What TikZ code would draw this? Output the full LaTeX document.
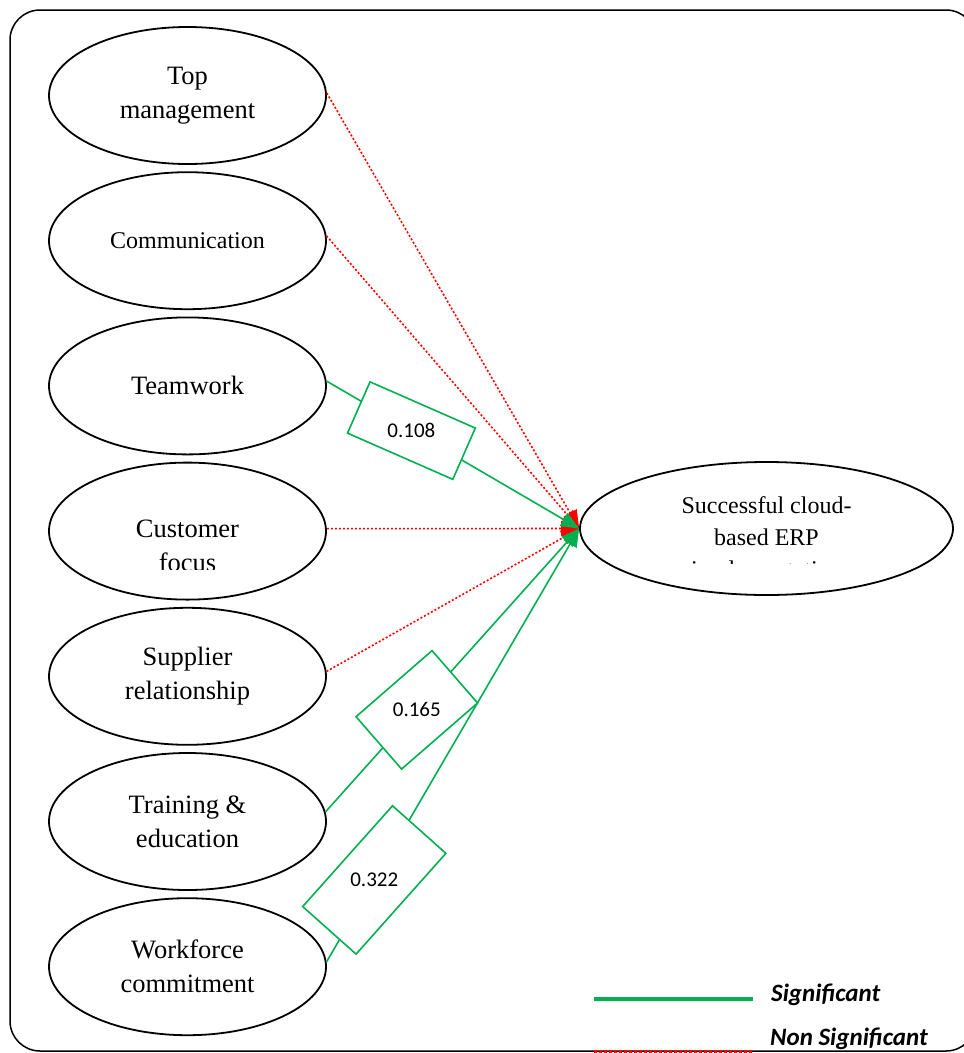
\documentclass[tikz,border=0pt]{standalone}
\usepackage{fontspec}
\setmainfont{Liberation Serif}
\newfontfamily\carlito{Carlito}
\usepackage{xcolor}
\usetikzlibrary{positioning, arrows.meta, shapes.geometric}
\definecolor{sgreen}{RGB}{0,176,80}
\definecolor{sred}{RGB}{255,0,0}

\begin{document}
\begin{tikzpicture}[
    x=1pt, y=-1pt,
    node distance=6.4pt,
    factor/.style={ellipse, draw=black, line width=1.8pt, minimum width=277pt,
                   minimum height=137pt, inner sep=0pt, align=center,
                   font=\fontsize{26.5}{34}\selectfont},
    outcome/.style={ellipse, draw=black, line width=1.8pt, minimum width=373pt,
                    minimum height=133pt, inner sep=0pt},
    sig/.style={draw=sgreen, line width=1.6pt, -{Triangle[length=18pt, width=15pt]}},
    nsig/.style={draw=sred, line width=1.6pt, dash pattern=on 2pt off 2pt,
                 -{Triangle[length=18pt, width=15pt]}},
    coef/.style={rectangle, draw=sgreen, line width=1.6pt, fill=white, inner sep=0pt,
                 font=\carlito\fontsize{21}{25}\selectfont},
    legend/.style={anchor=base west, inner sep=0pt,
                   font=\carlito\bfseries\itshape\fontsize{25}{30}\selectfont}
]
    \useasboundingbox (0,0) rectangle (964,1053);
    % outer frame
    \draw[line width=1.5pt, rounded corners=30pt] (10,10) rectangle (976,1051);

    % factors
    \node[factor] (tm) at (187.5,95.5) {Top\\management};
    \node[factor, below=of tm, font=\fontsize{24}{29}\selectfont] (com) {Communication};
    \node[factor, below=of com] (team) {Teamwork};
    \node[factor, below=of team] (cust) {};
    \node[factor, below=of cust] (supp) {Supplier\\relationship};
    \node[factor, below=of supp] (train) {Training \&\\education};
    \node[factor, below=of train] (work) {Workforce\\commitment};
    \node[outcome] (succ) at (766.5,528.5) {};

    % clipped texts
    \begin{scope}
        \clip (50,500) rectangle (325,569);
        \node[anchor=north, inner sep=0pt, align=center, font=\fontsize{26.5}{34}\selectfont]
            (custtxt) at ([yshift=11.5pt]cust.center) {Customer\\focus};
    \end{scope}
    \begin{scope}
        \clip (590,480) rectangle (950,563);
        \node[anchor=north, inner sep=0pt, align=center, font=\fontsize{24}{32}\selectfont]
            (succtxt) at ([yshift=32pt]succ.center) {Successful cloud-\\based ERP\\implementation};
    \end{scope}

    % paths
    \draw[nsig] (tm.1.5) -- (succ.west);
    \draw[nsig] (com.2) -- (succ.west);
    \draw[nsig] (cust.1.2) -- (succ.west);
    \draw[nsig] (supp.2.5) -- (succ.west);
    \draw[sig] (team.2) -- node[coef, pos=0.336, rotate=-23.7, minimum width=115pt,
        minimum height=56pt] (c108) {\rotatebox{23.7}{0.108}} (succ.west);
    \draw[sig] (train.4) -- node[coef, pos=0.36, rotate=41, minimum width=100.7pt,
        minimum height=69.4pt] (c165) {\rotatebox{-41}{0.165}} (succ.west);
    \draw[sig] (work.2) -- node[coef, pos=0.189, rotate=48.3, minimum width=135pt,
        minimum height=71.5pt] (c322) {\rotatebox{-48.3}{0.322}} (succ.west);

    % legend
    \coordinate (sig1) at (594,999);
    \coordinate (sig2) at (753,999);
    \coordinate (nsig1) at (594,1051);
    \coordinate (nsig2) at (753,1051);
    \draw[draw=sgreen, line width=3.3pt] (sig1) -- (sig2);
    \draw[draw=sred, line width=3pt, dash pattern=on 2.5pt off 2.5pt] (nsig1) -- (nsig2);
    \node[legend] (lsig) at (771,1001) {Significant};
    \node[legend] (lnsig) at (770,1045) {Non Significant};
\end{tikzpicture}
\end{document}
